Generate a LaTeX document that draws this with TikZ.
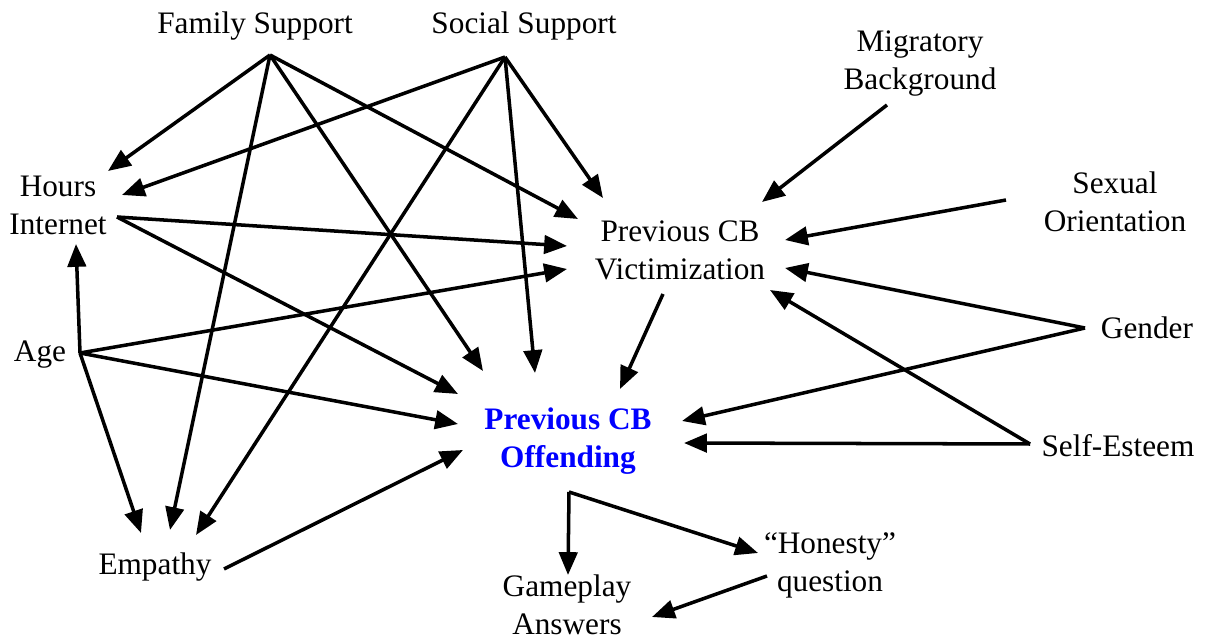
\documentclass[tikz,border=0pt]{standalone}
\usepackage{fontspec}
\setmainfont{Liberation Serif}
\usetikzlibrary{arrows.meta}
\begin{document}
\begin{tikzpicture}[x=0.02cm,y=-0.02cm,
  lbl/.style={inner sep=0pt,align=center,font=\fontsize{17.8}{21.6}\selectfont},
  main/.style={lbl,font=\fontsize{17.8}{21.6}\selectfont\bfseries,text=blue},
  arr/.style={line width=2pt,-{Triangle[length=13pt,width=10.5pt]}},
  ]
\useasboundingbox (0,0) rectangle (1205,641);
% nodes
\node[lbl] (fs) at (255,26) {Family Support};
\node[lbl] (ss) at (524,26) {Social Support};
\node[lbl] (mb) at (920,64) {Migratory\\Background};
\node[lbl] (hi) at (58,205) {Hours\\Internet};
\node[lbl] (vi) at (680,250) {Previous CB\\Victimization};
\node[lbl] (so) at (1115,202) {Sexual\\Orientation};
\node[lbl] (ag) at (40,355) {Age};
\node[lbl] (ge) at (1147,328) {Gender};
\node[main] (of) at (568,441) {Previous CB\\Offending};
\node[lbl] (se) at (1118,446) {Self-Esteem};
\node[lbl] (em) at (155,567) {Empathy};
\node[lbl] (ho) at (830,565) {``Honesty''\\question};
\node[lbl] (ga) at (567,605) {Gameplay\\Answers};
% connector end points
\coordinate (fsO) at (270,55);
\coordinate (ssO) at (505,57);
\coordinate (hiO) at (117,217);
\coordinate (agO) at (80,353);
\coordinate (geO) at (1085,328);
\coordinate (seO) at (1030,444);
\coordinate (mbO) at (887,105);
\coordinate (soO) at (1006,200);
\coordinate (emO) at (224,569);
\coordinate (viO) at (663,294);
\coordinate (ofO) at (569,492);
\coordinate (hoO) at (767,576);
\coordinate (hiA) at (108,171);
\coordinate (hiB) at (122,195);
\coordinate (hiC) at (76,244);
\coordinate (emA) at (170,530);
\coordinate (emB) at (196,535);
\coordinate (emC) at (141,533);
\coordinate (viA) at (578,219);
\coordinate (viB) at (603,198);
\coordinate (viC) at (567,246);
\coordinate (viD) at (567,269);
\coordinate (viE) at (762,202);
\coordinate (viF) at (785,240);
\coordinate (viG) at (785,268);
\coordinate (viH) at (770,290);
\coordinate (ofA) at (483,371);
\coordinate (ofB) at (535,373);
\coordinate (ofC) at (458,394);
\coordinate (ofD) at (458,424);
\coordinate (ofE) at (463,450);
\coordinate (ofF) at (620,389);
\coordinate (ofG) at (682,421);
\coordinate (ofH) at (684,443);
\coordinate (gaA) at (568,575);
\coordinate (gaB) at (652,617);
\coordinate (hoA) at (758,553);
% connectors
\draw[arr] (fsO) -- (hiA);
\draw[arr] (fsO) -- (emA);
\draw[arr] (fsO) -- (ofA);
\draw[arr] (fsO) -- (viA);
\draw[arr] (ssO) -- (hiB);
\draw[arr] (ssO) -- (emB);
\draw[arr] (ssO) -- (ofB);
\draw[arr] (ssO) -- (viB);
\draw[arr] (mbO) -- (viE);
\draw[arr] (soO) -- (viF);
\draw[arr] (geO) -- (viG);
\draw[arr] (geO) -- (ofG);
\draw[arr] (seO) -- (viH);
\draw[arr] (seO) -- (ofH);
\draw[arr] (hiO) -- (viC);
\draw[arr] (hiO) -- (ofC);
\draw[arr] (agO) -- (hiC);
\draw[arr] (agO) -- (viD);
\draw[arr] (agO) -- (ofD);
\draw[arr] (agO) -- (emC);
\draw[arr] (emO) -- (ofE);
\draw[arr] (viO) -- (ofF);
\draw[arr] (ofO) -- (gaA);
\draw[arr] (ofO) -- (hoA);
\draw[arr] (hoO) -- (gaB);
\end{tikzpicture}
\end{document}
